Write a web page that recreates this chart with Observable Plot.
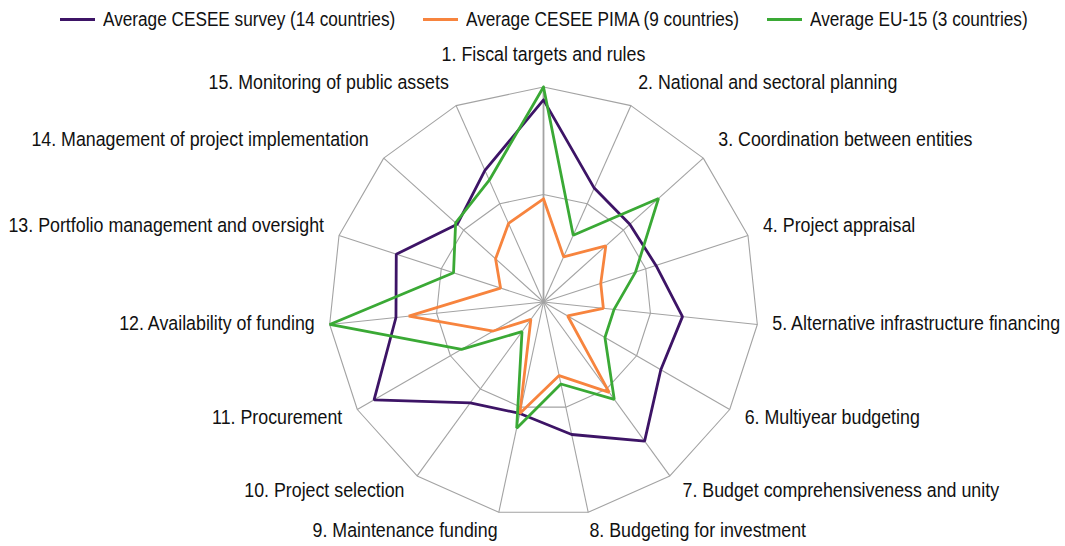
<!DOCTYPE html>
<html>
<head>
<meta charset="utf-8">
<script src="https://cdn.jsdelivr.net/npm/d3@7"></script>
<script src="https://cdn.jsdelivr.net/npm/@observablehq/plot@0.6"></script>
<style>
  html, body { margin: 0; padding: 0; background: #ffffff; }
  body { width: 1065px; height: 546px; overflow: hidden; font-family: "Liberation Sans", Arial, sans-serif; }
  #legend { height: 38px; box-sizing: border-box; padding-left: 22px; display: flex; justify-content: center; align-items: center; gap: 28px; font-size: 20px; color: #111; }
  .item { display: flex; align-items: center; gap: 8px; white-space: nowrap; }
  .sw { width: 35px; height: 3px; flex: none; }
  .txt { display: inline-block; overflow: visible; }
  .txt > span { display: inline-block; transform: scaleX(0.86); transform-origin: left center; }
</style>
</head>
<body>
<div id="legend"></div>
<div id="chart"></div>
<script>
// ---- data ----
const axes = [
  "1. Fiscal targets and rules",
  "2. National and sectoral planning",
  "3. Coordination between entities",
  "4. Project appraisal",
  "5. Alternative infrastructure financing",
  "6. Multiyear budgeting",
  "7. Budget comprehensiveness and unity",
  "8. Budgeting for investment",
  "9. Maintenance funding",
  "10. Project selection",
  "11. Procurement",
  "12. Availability of funding",
  "13. Portfolio management and oversight",
  "14. Management of project implementation",
  "15. Monitoring of public assets"
];
const seriesNames = [
  "Average CESEE survey (14 countries)",
  "Average CESEE PIMA (9 countries)",
  "Average EU-15 (3 countries)"
];
const ceseeSurvey = [0.94, 0.58, 0.54, 0.55, 0.65, 0.63, 0.80, 0.63, 0.53, 0.58, 0.91, 0.69, 0.72, 0.54, 0.67];
const ceseePima   = [0.48, 0.23, 0.39, 0.28, 0.28, 0.13, 0.52, 0.35, 0.53, 0.10, 0.27, 0.63, 0.21, 0.30, 0.40];
const eu15        = [1.00, 0.34, 0.72, 0.45, 0.33, 0.33, 0.56, 0.39, 0.60, 0.17, 0.44, 1.00, 0.44, 0.55, 0.62];
const ringLevels = [0.5, 1];
const seriesColors = ["#3d1466", "#f7843e", "#3aa935"];

// ---- layout ----
const W = 1065, H = 508;
const cx = 543, cy = 263.5, R = 215; // center (px) and outer radius (px)
const SX = 0.868; // horizontal condensing of label text
const n = axes.length;
const ang = i => i * 2 * Math.PI / n;
const pt = (i, r) => ({x: r * Math.sin(ang(i)), y: r * Math.cos(ang(i))});

const ringData = [];
for (const r of ringLevels) {
  for (let i = 0; i <= n; i++) ringData.push({ring: r, ...pt(i % n, r)});
}
const spokeData = axes.map((a, i) => ({i, ...pt(i, 1)}));
const allSeries = [ceseeSurvey, ceseePima, eu15];
const seriesData = [];
allSeries.forEach((vals, s) => {
  for (let i = 0; i <= n; i++) seriesData.push({series: seriesNames[s], ...pt(i % n, vals[i % n])});
});
const labelData = axes.map((label, i) => {
  const s = Math.sin(ang(i)), c = Math.cos(ang(i));
  const p = pt(i, 1);
  const center = Math.abs(s) < 0.01;
  const dxp = center ? 0 : Math.sign(s) * Math.min(15, 30 * Math.abs(s) - 5);
  const dyp = center ? -33 : (-c * 22 - 3.5);
  return {label, x: p.x + dxp / R, y: p.y - dyp / R, anchor: center ? "middle" : (s > 0 ? "start" : "end")};
});

// legend
const legend = document.getElementById("legend");
const txts = [];
seriesNames.forEach((name, k) => {
  const it = document.createElement("div");
  it.className = "item";
  const sw = document.createElement("div");
  sw.className = "sw";
  sw.style.background = seriesColors[k];
  const t = document.createElement("span");
  t.className = "txt";
  const inner = document.createElement("span");
  inner.textContent = name;
  t.appendChild(inner);
  it.appendChild(sw); it.appendChild(t);
  legend.appendChild(it);
  txts.push(t);
});
txts.forEach(t => { t.style.width = t.firstChild.getBoundingClientRect().width + "px"; });

const textOpts = {x: "x", y: "y", text: "label", fontSize: 20.5, fill: "#111"};
const chart = Plot.plot({
  width: W,
  height: H,
  margin: 0,
  x: {domain: [-cx / R, (W - cx) / R], range: [0, W], axis: null},
  y: {domain: [-(H - cy) / R, cy / R], range: [H, 0], axis: null},
  color: {domain: seriesNames, range: seriesColors},
  style: {fontFamily: "'Liberation Sans', Arial, sans-serif", background: "#ffffff"},
  marks: [
    Plot.line(ringData, {x: "x", y: "y", z: "ring", stroke: "#a3a3a3", strokeWidth: 1.1}),
    Plot.link(spokeData, {x1: 0, y1: 0, x2: "x", y2: "y", stroke: "#a3a3a3", strokeWidth: d => d.i === 0 ? 1.8 : 1.1}),
    Plot.line(seriesData, {x: "x", y: "y", z: "series", stroke: "series", strokeWidth: 2.8, strokeLinejoin: "miter"}),
    Plot.text(labelData.filter(d => d.anchor === "start"), {...textOpts, textAnchor: "start"}),
    Plot.text(labelData.filter(d => d.anchor === "end"), {...textOpts, textAnchor: "end"}),
    Plot.text(labelData.filter(d => d.anchor === "middle"), {...textOpts, textAnchor: "middle"})
  ]
});
document.getElementById("chart").appendChild(chart);
// condense label glyphs horizontally (keeps anchor positions)
chart.querySelectorAll("text").forEach(t => {
  const len = t.getComputedTextLength();
  if (len > 0) {
    t.setAttribute("textLength", (len * SX).toFixed(2));
    t.setAttribute("lengthAdjust", "spacingAndGlyphs");
  }
});
</script>
</body>
</html>
